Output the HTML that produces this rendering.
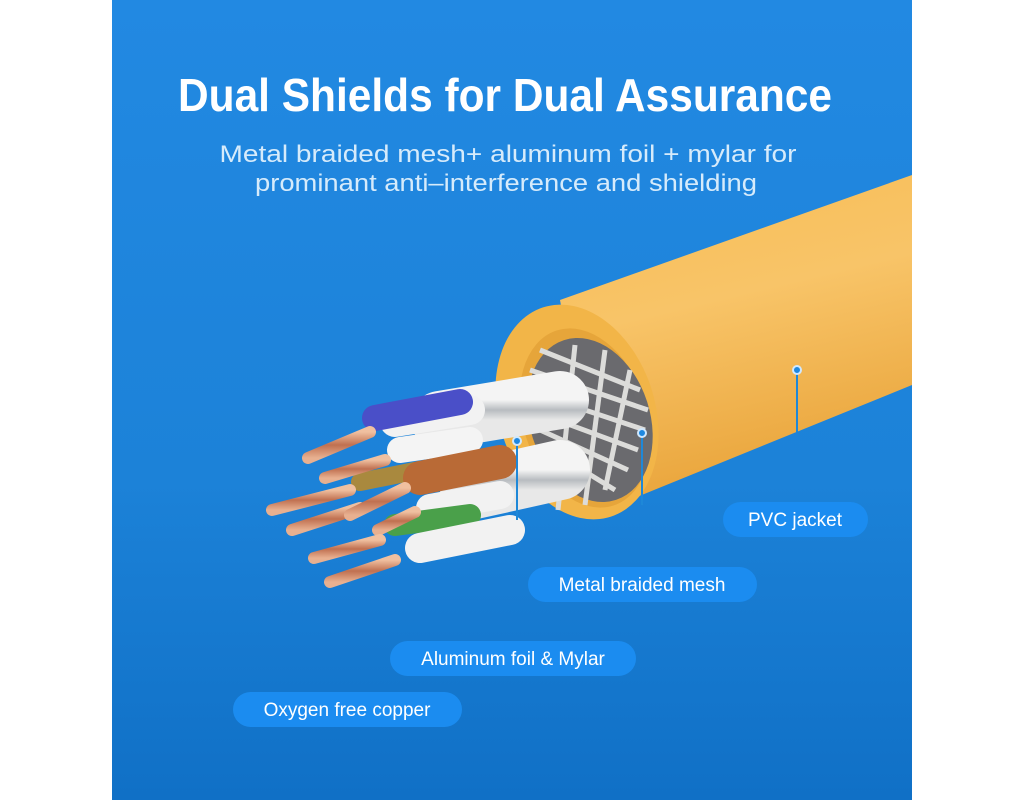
<!DOCTYPE html>
<html><head><meta charset="utf-8"><style>
html,body{margin:0;padding:0;background:#fff;width:1024px;height:800px;overflow:hidden}
svg{display:block}
</style></head><body>
<svg width="1024" height="800" viewBox="0 0 1024 800" xmlns="http://www.w3.org/2000/svg" font-family="Liberation Sans, sans-serif">
<defs>
<linearGradient id="bg" x1="0" y1="0" x2="0" y2="1">
<stop offset="0" stop-color="#2289e2"/><stop offset="0.6" stop-color="#1c82d8"/><stop offset="1" stop-color="#1070c6"/></linearGradient>
<linearGradient id="yel" x1="0" y1="0" x2="0.25" y2="1">
<stop offset="0" stop-color="#f7bd55"/><stop offset="0.45" stop-color="#f8c468"/><stop offset="1" stop-color="#e9a43a"/></linearGradient>
<linearGradient id="silver" x1="0" y1="0" x2="0" y2="1">
<stop offset="0" stop-color="#f4f4f4"/><stop offset="0.5" stop-color="#b8bcc0"/><stop offset="1" stop-color="#e8e8e8"/></linearGradient>
<linearGradient id="cu" x1="0" y1="0" x2="0" y2="1">
<stop offset="0" stop-color="#f0c0a0"/><stop offset="0.5" stop-color="#c07050"/><stop offset="1" stop-color="#e8b090"/></linearGradient>
</defs>
<rect x="112" y="0" width="800" height="800" fill="url(#bg)"/>
<text x="505" y="111" text-anchor="middle" font-size="46" font-weight="bold" fill="#fff" textLength="654" lengthAdjust="spacingAndGlyphs">Dual Shields for Dual Assurance</text>
<text x="508" y="162" text-anchor="middle" font-size="24" fill="#d6ebfb" textLength="577" lengthAdjust="spacingAndGlyphs">Metal braided  mesh+ aluminum foil + mylar for</text>
<text x="506" y="191" text-anchor="middle" font-size="24" fill="#d6ebfb" textLength="502" lengthAdjust="spacingAndGlyphs">prominant anti–interference and shielding</text>

<!-- cable jacket -->
<polygon points="560,300 912,175 912,385 600,512" fill="url(#yel)"/>
<ellipse cx="577" cy="412" rx="78" ry="110" transform="rotate(-18 577 412)" fill="#f2b548"/>
<ellipse cx="585" cy="418" rx="62" ry="92" transform="rotate(-18 585 418)" fill="#e6a53a"/>
<ellipse cx="590" cy="420" rx="60" ry="84" transform="rotate(-18 590 420)" fill="#6a6a6e"/>
<!-- braid -->
<g stroke="#dcdcda" stroke-width="5" fill="none">
<path d="M540,350 L640,390"/><path d="M530,370 L648,410"/><path d="M525,390 L645,430"/><path d="M530,410 L638,450"/><path d="M540,430 L628,470"/><path d="M550,450 L615,490"/>
<path d="M575,345 L558,510"/><path d="M605,350 L585,505"/><path d="M630,370 L605,490"/>
</g>
<!-- shielded pairs -->
<g stroke-linecap="round">
<line x1="560" y1="400" x2="440" y2="420" stroke="url(#silver)" stroke-width="58"/>
<line x1="560" y1="470" x2="470" y2="490" stroke="url(#silver)" stroke-width="60"/>
<line x1="470" y1="410" x2="395" y2="422" stroke="#f2f2f2" stroke-width="30"/>
<line x1="460" y1="402" x2="375" y2="418" stroke="#4a4fc8" stroke-width="26"/>
<line x1="470" y1="440" x2="400" y2="450" stroke="#f4f4f4" stroke-width="26"/>
<line x1="420" y1="470" x2="360" y2="482" stroke="#a9893e" stroke-width="18"/>
<line x1="500" y1="462" x2="420" y2="478" stroke="#b96a36" stroke-width="34"/>
<line x1="500" y1="495" x2="430" y2="508" stroke="#f2f2f2" stroke-width="28"/>
<line x1="470" y1="515" x2="395" y2="525" stroke="#4aa04a" stroke-width="22"/>
<line x1="510" y1="530" x2="420" y2="548" stroke="#f2f2f2" stroke-width="30"/>
</g>
<g stroke="url(#cu)" stroke-width="12" stroke-linecap="round">
<line x1="370" y1="432" x2="308" y2="458"/>
<line x1="385" y1="460" x2="325" y2="478"/>
<line x1="350" y1="490" x2="272" y2="510"/>
<line x1="360" y1="508" x2="292" y2="530"/>
<line x1="405" y1="488" x2="350" y2="515"/>
<line x1="415" y1="512" x2="378" y2="530"/>
<line x1="380" y1="540" x2="314" y2="558"/>
<line x1="395" y1="560" x2="330" y2="582"/>
</g>
<!-- leaders -->
<g stroke="#1e88d8" stroke-width="2" fill="#1e88e0">
<line x1="797" y1="370" x2="797" y2="432"/>
<line x1="642" y1="433" x2="642" y2="505"/>
<line x1="517" y1="441" x2="517" y2="520"/>
</g>
<g fill="#1e88e0" stroke="#cfe8ff" stroke-width="2">
<circle cx="797" cy="370" r="4"/><circle cx="642" cy="433" r="4"/><circle cx="517" cy="441" r="4"/>
</g>
<!-- pills -->
<g fill="#1b8cf0">
<rect x="723" y="502" width="145" height="35" rx="17.5"/>
<rect x="528" y="567" width="229" height="35" rx="17.5"/>
<rect x="390" y="641" width="246" height="35" rx="17.5"/>
<rect x="233" y="692" width="229" height="35" rx="17.5"/>
</g>
<g fill="#fff" font-size="19" text-anchor="middle">
<text x="795" y="526">PVC jacket</text>
<text x="642" y="591">Metal braided mesh</text>
<text x="513" y="665">Aluminum foil &amp; Mylar</text>
<text x="347" y="716">Oxygen free copper</text>
</g>
</svg>
</body></html>
